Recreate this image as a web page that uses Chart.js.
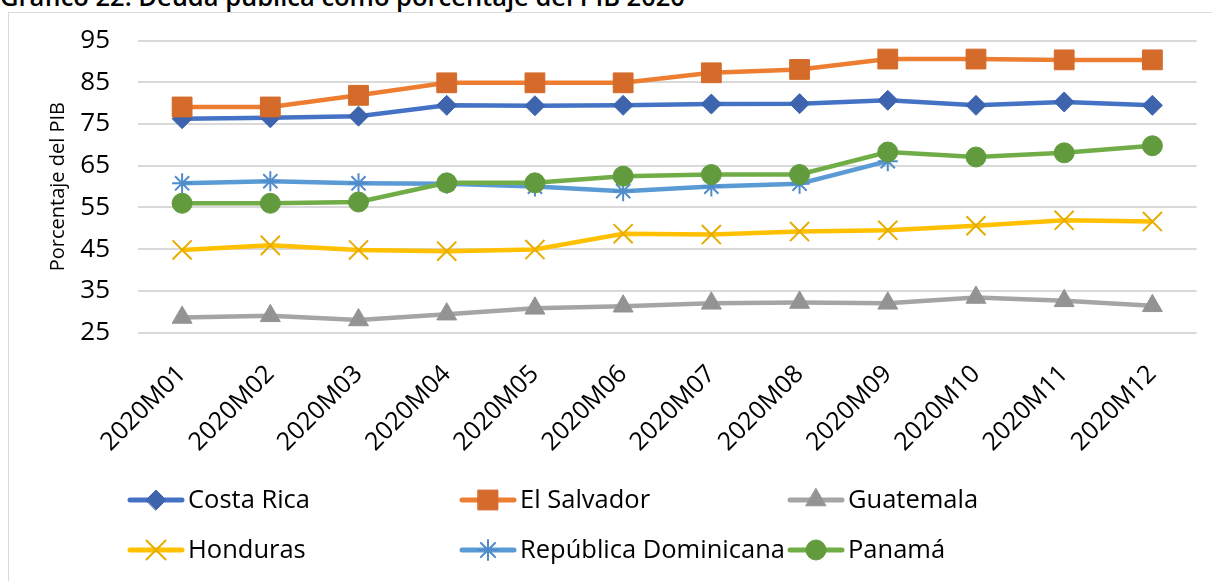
<!DOCTYPE html>
<html>
<head>
<meta charset="utf-8">
<script src="https://cdn.jsdelivr.net/npm/chart.js@4/dist/chart.umd.min.js"></script>
<style>
  html, body { margin: 0; padding: 0; background: #fff; overflow: hidden; }
  #wrap { position: relative; width: 1212px; height: 581px; }
  #title {
    position: absolute; left: 0; top: -21px; white-space: nowrap;
    font-family: "Open Sans", sans-serif; font-weight: 600; font-size: 25.5px; color: #000;
  }
  #frame {
    position: absolute; left: 8px; top: 12px; width: 1220px; height: 600px;
    border: 1.5px solid #d9d9d9; box-sizing: border-box;
  }
  canvas { position: absolute; left: 0; top: 0; }
</style>
</head>
<body>
<div id="wrap">
  <div id="title">Gráfico 22. Deuda pública como porcentaje del PIB 2020</div>
  <div id="frame"></div>
  <canvas id="deudaChart" width="1212" height="581"></canvas>
</div>
<script>
  const months = ['2020M01', '2020M02', '2020M03', '2020M04', '2020M05', '2020M06',
                  '2020M07', '2020M08', '2020M09', '2020M10', '2020M11', '2020M12'];
  const yTicks = [25, 35, 45, 55, 65, 75, 85, 95];

  const costaRica     = [76.3, 76.5, 76.9, 79.5, 79.4, 79.5, 79.8, 79.9, 80.7, 79.5, 80.3, 79.5];
  const elSalvador    = [79.1, 79.1, 81.9, 84.9, 84.9, 84.9, 87.3, 88.1, 90.6, 90.6, 90.4, 90.4];
  const guatemala     = [28.6, 29.0, 28.0, 29.4, 30.8, 31.3, 32.0, 32.2, 32.0, 33.4, 32.6, 31.4];
  const honduras      = [44.8, 45.9, 44.8, 44.5, 44.9, 48.7, 48.5, 49.2, 49.5, 50.6, 51.9, 51.6];
  const repDominicana = [60.8, 61.3, 60.8, 60.7, 60.0, 58.9, 60.0, 60.7, 66.1, null, null, null];
  const panama        = [56.0, 56.0, 56.3, 60.9, 60.9, 62.5, 62.9, 62.9, 68.3, 67.1, 68.1, 69.8];

  const FONT = '"Open Sans", sans-serif';

  // name, values, line colour, marker colour, marker style, radius
  const series = [
    ['Costa Rica', costaRica, '#4472c4', '#3e64ae', 'rectRot', 10],
    ['El Salvador', elSalvador, '#ed7d31', '#d46b2b', 'rect', 14],
    ['Guatemala', guatemala, '#a5a5a5', '#939393', 'triangle', 11.5],
    ['Honduras', honduras, '#ffc000', '#e6ac00', 'crossRot', 13.5],
    ['República Dominicana', repDominicana, '#5b9bd5', '#4f8cc9', 'star', 10],
    ['Panamá', panama, '#70ad47', '#629b3e', 'circle', 10]
  ];

  const datasets = series.map(([name, data, line, mark, style, r], i) => ({
    label: name,
    data: data,
    borderColor: line,
    borderWidth: 4.5,
    pointStyle: style,
    pointRadius: r,
    pointHoverRadius: r,
    pointBackgroundColor: mark,
    pointBorderColor: mark,
    pointBorderWidth: (style === 'crossRot' || style === 'star') ? 2 : 1,
    tension: 0,
    spanGaps: false,
    order: series.length - i
  }));

  // legend: 3 columns, 2 rows, line with marker in the middle
  const legendPlugin = {
    id: 'gridLegend',
    afterDraw(chart) {
      const ctx = chart.ctx;
      const cols = [128, 460, 788];
      const rows = [500, 550];
      ctx.save();
      series.forEach(([name, , line, mark, style, r], i) => {
        const x = cols[i % 3];
        const y = rows[Math.floor(i / 3)];
        ctx.strokeStyle = line;
        ctx.lineWidth = 5;
        ctx.lineCap = 'round';
        ctx.beginPath();
        ctx.moveTo(x + 2, y);
        ctx.lineTo(x + 54, y);
        ctx.stroke();
        ctx.fillStyle = mark;
        ctx.strokeStyle = mark;
        ctx.lineWidth = (style === 'crossRot' || style === 'star') ? 2 : 1;
        Chart.helpers.drawPoint(ctx, { pointStyle: style, radius: r, rotation: 0, borderWidth: ctx.lineWidth }, x + 28, y);
        ctx.fillStyle = '#000';
        ctx.font = '25.5px ' + FONT;
        ctx.textBaseline = 'middle';
        ctx.textAlign = 'left';
        ctx.fillText(name, x + 60, y + 1);
      });
      ctx.restore();
    }
  };

  new Chart(document.getElementById('deudaChart').getContext('2d'), {
    type: 'line',
    data: { labels: months, datasets: datasets },
    options: {
      responsive: false,
      animation: false,
      events: [],
      layout: { padding: { top: 40.7, right: 14, bottom: 0, left: 0 } },
      plugins: {
        legend: { display: false },
        tooltip: { enabled: false }
      },
      scales: {
        x: {
          offset: true,
          grid: { display: false, drawTicks: false },
          border: { display: false },
          ticks: {
            color: '#000',
            font: { family: FONT, size: 25 },
            minRotation: 45,
            maxRotation: 45,
            padding: 27
          },
          afterFit(scale) {
            scale.height = 581 - 332.5;
            scale.paddingTop = 0;
            scale.paddingBottom = 0;
          }
        },
        y: {
          min: 25,
          max: 95,
          afterBuildTicks(scale) { scale.ticks = yTicks.map(v => ({ value: v })); },
          grid: { color: '#d9d9d9', lineWidth: 2, drawTicks: false },
          border: { display: false },
          ticks: {
            color: '#000',
            font: { family: FONT, size: 26 },
            padding: 28
          },
          title: {
            display: true,
            text: 'Porcentaje del PIB',
            color: '#000',
            font: { family: FONT, size: 20 },
            padding: { top: 46 }
          },
          afterFit(scale) {
            scale.width = 138;
            scale.paddingTop = 0;
            scale.paddingBottom = 0;
          }
        }
      }
    },
    plugins: [legendPlugin]
  });
</script>
</body>
</html>
